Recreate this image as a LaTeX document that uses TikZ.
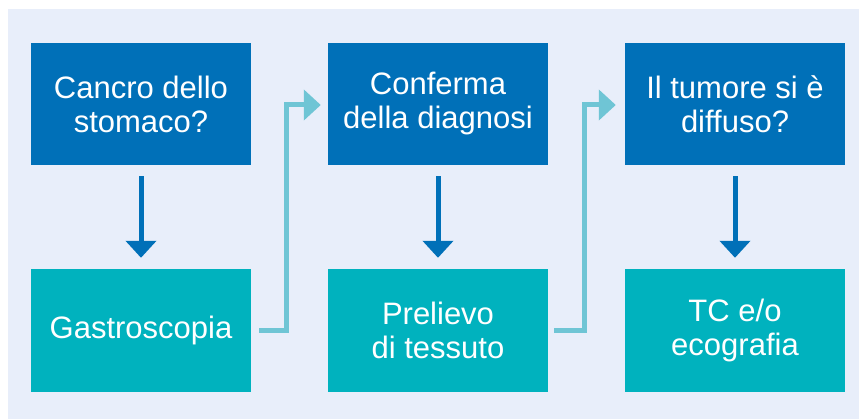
\documentclass[tikz,border=0pt]{standalone}
\usepackage{fontspec}
\setmainfont{Liberation Sans}
\usetikzlibrary{arrows.meta}
\definecolor{bgblue}{RGB}{232,238,250}
\definecolor{darkblue}{RGB}{0,112,184}
\definecolor{tealbox}{RGB}{0,178,190}
\definecolor{cyanline}{RGB}{111,197,213}
\tikzset{
  topbox/.style={fill=darkblue, text=white, minimum width=220pt, minimum height=122pt, inner sep=0pt, align=center, font=\fontsize{31}{34}\selectfont},
  botbox/.style={fill=tealbox, text=white, minimum width=220pt, minimum height=123pt, inner sep=0pt, align=center, font=\fontsize{31}{34}\selectfont},
  downarrow/.style={draw=darkblue, line width=5pt, -{Triangle[width=30pt,length=17pt]}, shorten <=11pt, shorten >=11pt},
  connector/.style={draw=cyanline, line width=5pt, line join=miter, -{Triangle[width=30pt,length=17pt]}}
}
\begin{document}
\begin{tikzpicture}[x=1pt,y=-1pt]
  \useasboundingbox (0,0) rectangle (859,419);
  \fill[white] (0,0) rectangle (859,419);
  \fill[bgblue] (8,9) rectangle (859,419);
  \node[topbox] (b1) at (141,104) {Cancro dello\\stomaco?};
  \node[topbox] (b2) at (438,104) {Conferma\\della diagnosi};
  \node[topbox] (b3) at (735,104) {Il tumore si è\\diffuso?};
  \node[botbox] (b4) at (141,330.5) {Gastroscopia};
  \node[botbox] (b5) at (438,330.5) {Prelievo\\di tessuto};
  \node[botbox] (b6) at (735,330.5) {TC e/o\\ecografia};
  \draw[downarrow] (b1) -- (b4);
  \draw[downarrow] (b2) -- (b5);
  \draw[downarrow] (b3) -- (b6);
  \draw[connector] ([xshift=8pt]b4.east) -- ++(27,0) |- ([xshift=-7pt,yshift=-1pt]b2.west);
  \draw[connector] ([xshift=6pt]b5.east) -- ++(30,0) |- ([xshift=-9pt,yshift=-1pt]b3.west);
\end{tikzpicture}
\end{document}
